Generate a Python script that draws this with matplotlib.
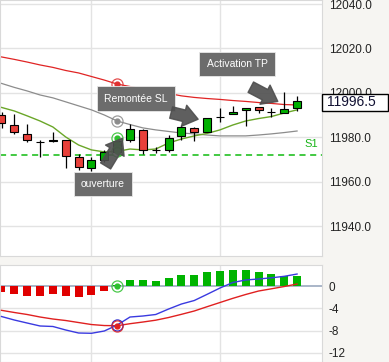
import matplotlib
matplotlib.use('Agg')
import matplotlib.pyplot as plt
import numpy as np
from matplotlib.patches import Rectangle

plt.rcParams['font.family'] = ['Liberation Sans', 'DejaVu Sans']

# candles (open, high, low, close)
opens  = [11990.1, 11985.6, 11981.6, 11977.8, 11978.5, 11978.9, 11971.2, 11966.3, 11969.9, 11973.5,
          11978.9, 11983.4, 11974.4, 11974.4, 11980.7, 11984.3, 11982.5, 11989.2, 11990.6, 11992.4,
          11993.7, 11991.5, 11991.0, 11993.3]
highs  = [11991.5, 11990.6, 11986.1, 11978.7, 11982.5, 11978.9, 11972.6, 11971.2, 11974.4, 11979.8,
          11986.1, 11983.8, 11975.7, 11981.1, 11985.6, 11984.7, 11988.8, 11993.3, 11994.2, 11993.3,
          11993.7, 11993.3, 12000.4, 11998.7]
lows   = [11984.3, 11981.6, 11978.0, 11971.2, 11978.0, 11966.3, 11965.4, 11964.9, 11969.0, 11972.6,
          11978.0, 11972.6, 11973.0, 11973.5, 11978.9, 11978.4, 11982.5, 11987.0, 11990.6, 11985.2,
          11991.0, 11989.2, 11991.0, 11991.9]
closes = [11986.5, 11982.5, 11978.9, 11977.8, 11978.9, 11971.7, 11966.7, 11969.9, 11973.5, 11978.4,
          11983.8, 11974.4, 11974.4, 11979.8, 11984.7, 11982.5, 11988.8, 11989.2, 11991.5, 11993.3,
          11992.4, 11991.5, 11992.8, 11996.5]

ma_red   = [12016.2, 12015.1, 12013.9, 12012.6, 12011.5, 12010.1, 12009.0, 12007.4, 12005.8, 12004.0,
            12002.9, 12001.8, 12000.7, 11999.8, 11998.7, 11998.0, 11997.5, 11997.1, 11996.6, 11996.2,
            11995.7, 11995.3, 11994.8, 11994.6]
ma_gray  = [12004.3, 12002.5, 12000.9, 11999.1, 11997.8, 11996.0, 11994.2, 11992.4, 11990.1, 11987.4,
            11985.8, 11984.3, 11983.4, 11982.7, 11982.0, 11981.6, 11981.1, 11980.7, 11980.7, 11980.7,
            11981.1, 11981.6, 11982.2, 11982.9]
ma_green = [11993.5, 11991.9, 11989.7, 11987.4, 11984.7, 11980.2, 11976.6, 11974.4, 11973.5, 11973.7,
            11974.8, 11974.4, 11974.8, 11977.5, 11979.3, 11980.7, 11981.8, 11983.4, 11985.6, 11987.4,
            11988.5, 11989.4, 11991.0, 11992.4]
s1_level = 11972.1
last_price = 11996.5

# oscillator
hist = [-1.13, -1.49, -1.74, -1.79, -1.43, -1.74, -1.97, -1.56, -0.84, 0.1,
        1.13, 1.02, 0.95, 1.38, 1.97, 1.97, 2.56, 2.69, 2.82, 2.87,
        2.56, 2.10, 1.85, 1.85]
macd = [-5.47, -6.10, -6.64, -7.17, -7.26, -7.89, -8.43, -8.48, -8.07, -7.00,
        -5.56, -5.38, -5.11, -4.13, -3.23, -2.60, -1.49, -0.36, 0.63, 1.08,
        1.26, 1.47, 1.74, 2.15]
signal = [-4.36, -4.75, -5.11, -5.56, -5.92, -6.19, -6.55, -6.91, -7.09, -7.12,
          -6.76, -6.46, -6.13, -5.65, -5.08, -4.48, -3.71, -2.96, -2.21, -1.52,
          -0.90, -0.50, -0.09, 0.36]

price_ticks = [11940, 11960, 11980, 12000, 12020, 12040]
osc_ticks = [0, -4, -8, -12]

W, H = 389, 362
fig = plt.figure(figsize=(W / 100, H / 100), dpi=100, facecolor='#f6f5f2')
ax = fig.add_axes([0, (H - 256) / H, 322 / W, 256 / H])
ax2 = fig.add_axes([0, 0, 322 / W, 97 / H])

x = np.arange(len(opens))
xlim = (-0.117, 24.94)
grid_c = '#e3e3e3'
txt_c = '#222222'

# ---- price panel
for v in price_ticks:
    ax.axhline(v, color=grid_c, lw=1, zorder=0)
for i in (7, 17):
    ax.axvline(i, color=grid_c, lw=1, zorder=0)
ax.axhline(s1_level, color='#10bb10', lw=1.1, ls=(0, (4, 3)), zorder=1)
ax.text(23.6, s1_level + 2.6, 'S1', color='#18b418', fontsize=8, va='bottom', ha='left')

ax.plot(x, ma_red, color='#e02424', lw=0.9, zorder=2)
ax.plot(x, ma_gray, color='#8c8c8c', lw=0.9, zorder=2)
ax.plot(x, ma_green, color='#6aa628', lw=1.0, zorder=2)

o = np.array(opens); c = np.array(closes)
cols = np.where(c > o, '#00b000', '#e8403a')
ax.vlines(x, lows, highs, color='black', lw=0.9, zorder=3)
ax.bar(x, np.abs(c - o), bottom=np.minimum(o, c), width=0.62, color=cols,
       edgecolor='black', linewidth=0.8, zorder=4)

# markers on the signal candle
def ring(a, xi, yv, col):
    a.plot(xi, yv, 'o', ms=8, mfc='none', mec=col, mew=0.9, alpha=0.85, zorder=6)
    a.plot(xi, yv, 'o', ms=3.5, color=col, zorder=6)

ring(ax, 9, ma_red[9], '#e03030')
ring(ax, 9, ma_gray[9], '#8c8c8c')
ring(ax, 9, 11979.8, '#2cc02c')
ring(ax, 9, ma_green[9], '#2cc02c')

box = dict(boxstyle='square,pad=0.7', fc='#6c6c6c', ec='#e8e8e8', lw=0.6)
ax.text(10.47, 11997.5, 'Remontée SL', color='white', fontsize=7.5, ha='center', va='center', bbox=box, zorder=8)
ax.text(18.33, 12013.0, 'Activation TP', color='white', fontsize=7.5, ha='center', va='center', bbox=box, zorder=8)
ax.text(7.9, 11959.1, 'ouverture', color='white', fontsize=7.5, ha='center', va='center', bbox=box, zorder=8)

arrow = dict(arrowstyle='simple,head_length=0.8,head_width=1.2,tail_width=0.65', fc='#4e4e4e', ec='#4e4e4e',
             alpha=0.9, mutation_scale=13, shrinkA=0, shrinkB=0)
ax.annotate('', xy=(9.4, 11979.6), xytext=(8.1, 11967.2), arrowprops=arrow, zorder=9)
ax.annotate('', xy=(15.3, 11988.2), xytext=(13.2, 11991.2), arrowprops=arrow, zorder=9)
ax.annotate('', xy=(21.5, 11996.2), xytext=(19.4, 12002.6), arrowprops=arrow, zorder=9)

ax.set_xlim(*xlim)
ax.set_ylim(11926.7, 12041.8)
ax.set_xticks([])
ax.yaxis.tick_right()
ax.set_yticks(price_ticks)
ax.set_yticklabels(['%.1f' % v for v in price_ticks], fontsize=8.5, color=txt_c)
ax.tick_params(axis='y', length=0, pad=5)

# last price box
fig.patches.append(Rectangle((322 / W, (H - 111) / H), 66 / W, 17 / H, transform=fig.transFigure,
                             fc='white', ec='black', lw=1, zorder=5))
fig.text(327 / W, (H - 102.5) / H, '%.1f' % last_price, fontsize=10, color='#111133',
         va='center', ha='left', zorder=6)

# ---- oscillator panel
for v in osc_ticks[1:]:
    ax2.axhline(v, color=grid_c, lw=1, zorder=0)
for i in (7, 17):
    ax2.axvline(i, color=grid_c, lw=1, zorder=0)
ax2.axhline(0, color='#a9b6c8', lw=1.4, zorder=1)
h = np.array(hist)
ax2.bar(x, h, width=0.62, color=np.where(h > 0, '#00b400', '#e00000'), zorder=2)
ax2.plot(x, signal, color='#e02020', lw=1.0, zorder=3)
ax2.plot(x, macd, color='#3a3ae0', lw=1.0, zorder=3)
ring(ax2, 9, 0, '#2cc02c')
ax2.plot(9, macd[9], 'o', ms=8, mfc='none', mec='#3030d0', mew=0.9, zorder=6)
ring(ax2, 9, signal[9], '#e02020')

ax2.set_xlim(*xlim)
ax2.set_ylim(-13.63, 3.77)
ax2.set_xticks([])
ax2.yaxis.tick_right()
ax2.set_yticks(osc_ticks)
ax2.set_yticklabels([str(v) for v in osc_ticks], fontsize=8.5, color=txt_c)
ax2.tick_params(axis='y', length=0, pad=5)

for a in (ax, ax2):
    for s in a.spines.values():
        s.set_color('#d9d9d9')

fig.savefig('out.png', dpi=100, facecolor=fig.get_facecolor())
